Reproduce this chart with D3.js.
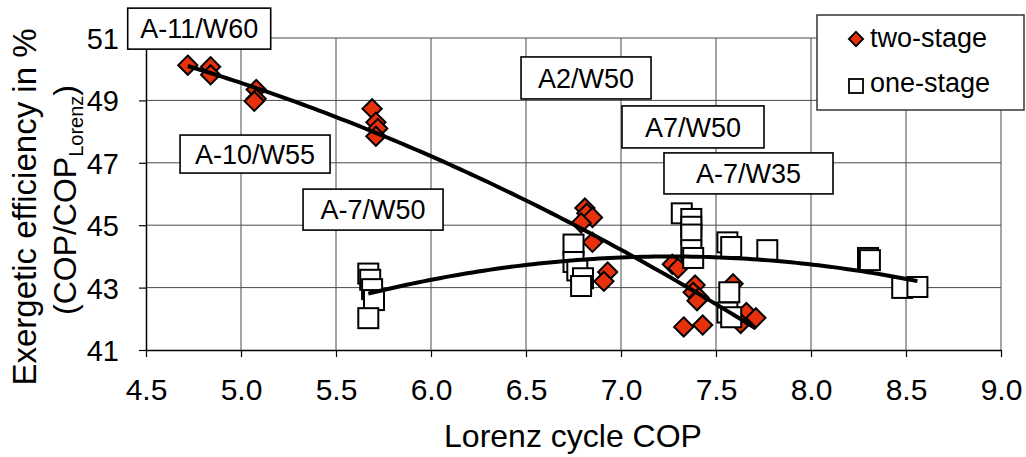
<!DOCTYPE html>
<html>
<head>
<meta charset="utf-8">
<script src="https://cdn.jsdelivr.net/npm/d3@7"></script>
<style>
  html, body { margin: 0; padding: 0; background: #fff; }
  svg { display: block; font-family: "Liberation Sans", Arial, Helvetica, sans-serif; }
</style>
</head>
<body>
<svg id="chart" width="1026" height="457"></svg>
<script>
// Lorenz cycle COP vs. exergetic efficiency, two-stage and one-stage heat pumps
const twoStageCOP = [4.72, 4.84, 4.84, 5.08, 5.08, 5.07, 5.69, 5.71, 5.72, 5.71,
  6.81, 6.82, 6.85, 6.79, 6.85, 6.93, 6.91, 7.27, 7.30, 7.39, 7.38, 7.41, 7.40,
  7.33, 7.43, 7.59, 7.64, 7.66, 7.71, 7.63];
const twoStageEff = [50.13, 50.08, 49.82, 49.35, 49.05, 48.97, 48.73, 48.30, 48.10, 47.85,
  45.55, 45.38, 45.25, 45.07, 44.45, 43.50, 43.20, 43.75, 43.62, 43.08, 42.85, 42.68, 42.58,
  41.74, 41.80, 43.12, 42.05, 42.20, 42.03, 41.85];

const oneStageCOP = [5.67, 5.68, 5.69, 5.70, 5.67,
  6.75, 6.75, 6.77, 6.80, 6.79,
  7.32, 7.37, 7.37, 7.37, 7.37, 7.38,
  7.56, 7.58, 7.77, 7.57, 7.56, 7.58,
  8.30, 8.31, 8.48, 8.56];
const oneStageEff = [43.45, 43.25, 42.95, 42.60, 42.02,
  44.38, 43.82, 43.55, 43.30, 43.05,
  45.38, 45.20, 44.95, 44.70, 44.20, 43.95,
  44.45, 44.30, 44.20, 42.85, 42.20, 42.05,
  43.95, 43.88, 42.99, 43.02];

const xTicks = [4.5, 5.0, 5.5, 6.0, 6.5, 7.0, 7.5, 8.0, 8.5, 9.0];
const yTicks = [41, 43, 45, 47, 49, 51];

const seriesNames = ["two-stage", "one-stage"];
const conditionLabels = ["A-11/W60", "A-10/W55", "A-7/W50", "A2/W50", "A7/W50", "A-7/W35"];
// label box anchors (data units) and box sizes (px)
const conditionLayout = [
  { cx: 4.78, cy: 51.30, w: 143, h: 41 },
  { cx: 5.074, cy: 47.28, w: 150, h: 38 },
  { cx: 5.695, cy: 45.50, w: 140, h: 41 },
  { cx: 6.816, cy: 49.72, w: 130, h: 42 },
  { cx: 7.379, cy: 48.15, w: 142, h: 42 },
  { cx: 7.671, cy: 46.66, w: 169, h: 41 }
];

const svg = d3.select("#chart");
const x = d3.scaleLinear().domain([4.5, 9.0]).range([146, 1001]);
const y = d3.scaleLinear().domain([41, 51]).range([350, 38]);
const red = "#e6310c";

// grid
const grid = svg.append("g");
grid.selectAll("line.v").data(xTicks.slice(1)).join("line")
  .attr("x1", d => x(d)).attr("x2", d => x(d))
  .attr("y1", y(51)).attr("y2", y(41))
  .attr("stroke", "#4a4a4a").attr("stroke-width", 1);
grid.selectAll("line.h").data(yTicks.slice(1)).join("line")
  .attr("x1", x(4.5)).attr("x2", x(9.0))
  .attr("y1", d => y(d)).attr("y2", d => y(d))
  .attr("stroke", "#4a4a4a").attr("stroke-width", 1);

// axes
const xAxis = svg.append("g").attr("transform", `translate(0,${y(41)})`)
  .call(d3.axisBottom(x).tickValues(xTicks).tickFormat(d3.format(".1f")).tickSize(7).tickSizeOuter(0).tickPadding(22));
const yAxis = svg.append("g").attr("transform", `translate(${x(4.5)},0)`)
  .call(d3.axisLeft(y).tickValues(yTicks).tickSize(7).tickSizeOuter(0).tickPadding(20));
[xAxis, yAxis].forEach(a => {
  a.select(".domain").attr("stroke", "#000").attr("stroke-width", 1.5);
  a.selectAll(".tick line").attr("stroke", "#000").attr("stroke-width", 1.2);
  a.selectAll(".tick text").attr("fill", "#000").attr("font-family", null);
});
xAxis.selectAll(".tick text").attr("font-size", 30).attr("dy", "0.71em");
yAxis.selectAll(".tick text").attr("font-size", 29).attr("dy", "0.36em");
xAxis.attr("font-size", null); yAxis.attr("font-size", null);

// axis titles
svg.append("text").attr("x", 573).attr("y", 447).attr("text-anchor", "middle")
  .attr("font-size", 32).text("Lorenz cycle COP");
const yt = svg.append("g");
yt.append("text").attr("transform", "translate(36,207) rotate(-90)")
  .attr("text-anchor", "middle").attr("font-size", 33).text("Exergetic efficiency in %");
const yt2 = yt.append("text").attr("transform", "translate(76,200) rotate(-90)")
  .attr("text-anchor", "middle").attr("font-size", 32);
yt2.append("tspan").text("(COP/COP");
yt2.append("tspan").attr("font-size", 20).attr("dy", 7).text("Lorenz");
yt2.append("tspan").attr("dy", -7).text(")");

// quadratic least-squares trendline
function quadFit(xs, ys) {
  let s = [0, 0, 0, 0, 0], t = [0, 0, 0];
  xs.forEach((xv, i) => {
    let p = 1;
    for (let k = 0; k < 5; k++) { s[k] += p; if (k < 3) t[k] += p * ys[i]; p *= xv; }
  });
  const M = [[s[0], s[1], s[2], t[0]], [s[1], s[2], s[3], t[1]], [s[2], s[3], s[4], t[2]]];
  for (let i = 0; i < 3; i++) {
    for (let j = i + 1; j < 3; j++) {
      const f = M[j][i] / M[i][i];
      for (let k = i; k < 4; k++) M[j][k] -= f * M[i][k];
    }
  }
  const c = [0, 0, 0];
  for (let i = 2; i >= 0; i--) {
    let v = M[i][3];
    for (let k = i + 1; k < 3; k++) v -= M[i][k] * c[k];
    c[i] = v / M[i][i];
  }
  return c;
}
function trendPath(xs, ys) {
  const c = quadFit(xs, ys);
  const [lo, hi] = d3.extent(xs);
  const pts = d3.range(0, 101).map(i => {
    const xv = lo + (hi - lo) * i / 100;
    return [xv, c[0] + c[1] * xv + c[2] * xv * xv];
  });
  return d3.line().x(d => x(d[0])).y(d => y(d[1]))(pts);
}

// markers
const diamond = d3.symbol().type(d3.symbolDiamond2).size(235);
svg.append("g").selectAll("path").data(twoStageCOP).join("path")
  .attr("d", diamond)
  .attr("transform", (d, i) => `translate(${x(d)},${y(twoStageEff[i])})`)
  .attr("fill", red).attr("stroke", "#000").attr("stroke-width", 2).attr("stroke-linejoin", "miter");
const sq = 20;
svg.append("g").selectAll("rect").data(oneStageCOP).join("rect")
  .attr("x", d => x(d) - sq / 2)
  .attr("y", (d, i) => y(oneStageEff[i]) - sq / 2)
  .attr("width", sq).attr("height", sq)
  .attr("fill", "#fff").attr("stroke", "#000").attr("stroke-width", 2);

// trendlines
svg.append("path").attr("d", trendPath(twoStageCOP, twoStageEff))
  .attr("fill", "none").attr("stroke", "#000").attr("stroke-width", 4);
svg.append("path").attr("d", trendPath(oneStageCOP, oneStageEff))
  .attr("fill", "none").attr("stroke", "#000").attr("stroke-width", 4);

// condition labels
const lab = svg.append("g").selectAll("g").data(conditionLabels).join("g")
  .attr("transform", (d, i) => `translate(${x(conditionLayout[i].cx)},${y(conditionLayout[i].cy)})`);
lab.append("rect")
  .attr("x", (d, i) => -conditionLayout[i].w / 2).attr("y", (d, i) => -conditionLayout[i].h / 2)
  .attr("width", (d, i) => conditionLayout[i].w).attr("height", (d, i) => conditionLayout[i].h)
  .attr("fill", "#fff").attr("stroke", "#000").attr("stroke-width", 1.6);
lab.append("text").attr("text-anchor", "middle").attr("dy", "0.36em")
  .attr("font-size", 27).text(d => d);

// legend
const lg = svg.append("g");
lg.append("rect").attr("x", 817).attr("y", 15).attr("width", 207).attr("height", 95)
  .attr("fill", "#fff").attr("stroke", "#333").attr("stroke-width", 1.5);
lg.append("path").attr("d", d3.symbol().type(d3.symbolDiamond2).size(130)())
  .attr("transform", "translate(856,39)")
  .attr("fill", red).attr("stroke", "#000").attr("stroke-width", 1.8);
lg.append("rect").attr("x", 849).attr("y", 79).attr("width", 14).attr("height", 14)
  .attr("fill", "#fff").attr("stroke", "#000").attr("stroke-width", 1.8);
lg.selectAll("text.l").data(seriesNames).join("text")
  .attr("x", 870).attr("y", (d, i) => 47 + i * 45)
  .attr("font-size", 27).text(d => d);
</script>
</body>
</html>
